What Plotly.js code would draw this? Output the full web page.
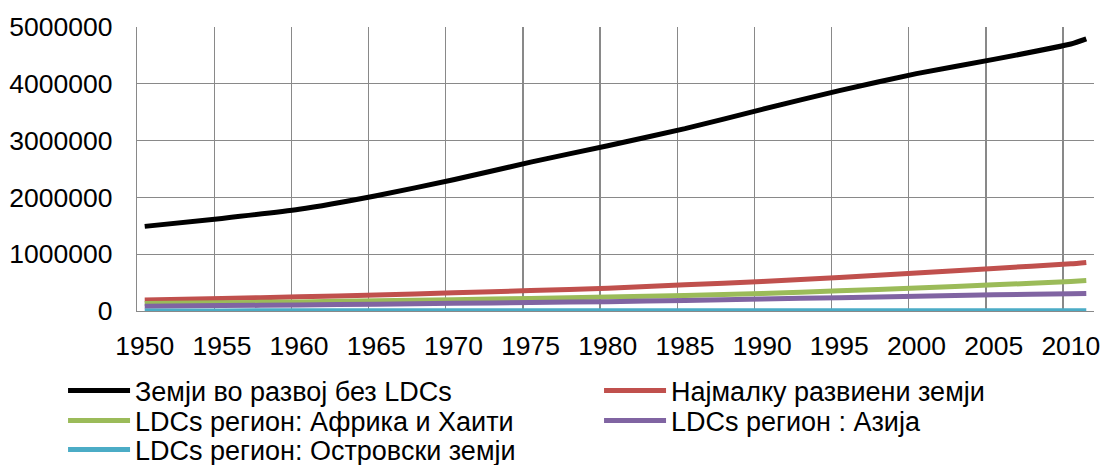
<!DOCTYPE html>
<html>
<head>
<meta charset="utf-8">
<script src="https://cdn.plot.ly/plotly-3.0.1.min.js"></script>
<style>html,body{margin:0;padding:0;background:#fff}#chart{width:1105px;height:465px}</style>
</head>
<body>
<div id="chart"></div>
<script>
// Years (x values)
const years = [1950, 1955, 1960, 1965, 1970, 1975, 1980, 1985, 1990, 1995, 2000, 2005, 2010, 2011];

// Series names
const seriesNames = [
  "Земји во развој без LDCs",
  "Најмалку развиени земји",
  "LDCs регион: Африка и Хаити",
  "LDCs регион : Азија",
  "LDCs регион: Островски земји"
];

// Series values (thousands)
const developingNoLDC = [1490000, 1630000, 1790000, 2030000, 2310000, 2620000, 2910000, 3210000, 3550000, 3880000, 4180000, 4430000, 4700000, 4790000];
const leastDeveloped  = [195000, 220000, 250000, 280000, 320000, 360000, 400000, 460000, 520000, 590000, 670000, 750000, 830000, 855000];
const africaHaiti     = [130000, 145000, 160000, 180000, 200000, 220000, 245000, 275000, 310000, 355000, 405000, 460000, 520000, 535000];
const asia            = [85000, 95000, 105000, 120000, 135000, 150000, 165000, 185000, 210000, 235000, 260000, 285000, 305000, 310000];
const islands         = [2000, 2200, 2500, 2800, 3100, 3400, 3700, 4000, 4300, 4600, 4900, 5200, 5500, 5600];

// Axis ticks
const xTickVals = [1950, 1955, 1960, 1965, 1970, 1975, 1980, 1985, 1990, 1995, 2000, 2005, 2010];
const xTickText = ["1950", "1955", "1960", "1965", "1970", "1975", "1980", "1985", "1990", "1995", "2000", "2005", "2010"];
const yTickVals = [0, 1000000, 2000000, 3000000, 4000000, 5000000];
const yTickText = ["0", "1000000", "2000000", "3000000", "4000000", "5000000"];

const colors = ["#000000", "#C0504D", "#9BBB59", "#8064A2", "#4BACC6"];
const allSeries = [developingNoLDC, leastDeveloped, africaHaiti, asia, islands];
// legend row for each series, and whether it is in the left column
const legendIds = ["legend", "legend", "legend2", "legend2", "legend3"];
const leftColumn = [true, false, true, false, true];

const traces = allSeries.map((vals, i) => ({
  type: "scatter",
  mode: "lines",
  x: years,
  y: vals,
  name: seriesNames[i],
  legend: legendIds[i],
  legendwidth: leftColumn[i] ? 449 : 325,
  line: {color: colors[i], width: 5, shape: "spline", smoothing: 0.5}
}));

const tickFont = {family: "Liberation Sans, Arial, sans-serif", size: 26.5, color: "#000"};
const legFont = {family: "Liberation Sans, Arial, sans-serif", size: 27, color: "#000"};

function makeLegend(yCenterPx) {
  return {
    orientation: "h",
    xref: "container",
    yref: "container",
    x: 0.048,
    y: 1 - yCenterPx / 465,
    xanchor: "left",
    yanchor: "middle",
    entrywidthmode: "pixels",
    itemwidth: 62,
    indentation: 10,
    font: legFont,
    bgcolor: "rgba(0,0,0,0)",
    traceorder: "normal"
  };
}

const layout = {
  width: 1105,
  height: 465,
  margin: {l: 137, r: 11, t: 27, b: 154},
  paper_bgcolor: "#fff",
  plot_bgcolor: "#fff",
  font: tickFont,
  showlegend: true,
  xaxis: {
    range: [1949.5, 2011.5],
    tickmode: "array",
    tickvals: xTickVals,
    ticktext: xTickText,
    showgrid: false,
    zeroline: false,
    showline: true,
    linecolor: "#898989",
    linewidth: 1.3,
    ticks: "",
    ticklabelstandoff: 11,
    tickfont: tickFont,
    minor: {tick0: 1949.5, dtick: 5, showgrid: true, gridcolor: "#898989", gridwidth: 1.3, ticks: ""}
  },
  yaxis: {
    range: [0, 5000000],
    tickmode: "array",
    tickvals: yTickVals,
    ticktext: yTickText,
    showgrid: true,
    gridcolor: "#898989",
    gridwidth: 1.3,
    zeroline: false,
    showline: true,
    linecolor: "#898989",
    linewidth: 1.3,
    ticks: "",
    ticklabelstandoff: 18,
    tickfont: tickFont
  },
  legend: makeLegend(391),
  legend2: makeLegend(421),
  legend3: makeLegend(450)
};

Plotly.newPlot("chart", traces, layout, {displayModeBar: false, staticPlot: true});
</script>
</body>
</html>
